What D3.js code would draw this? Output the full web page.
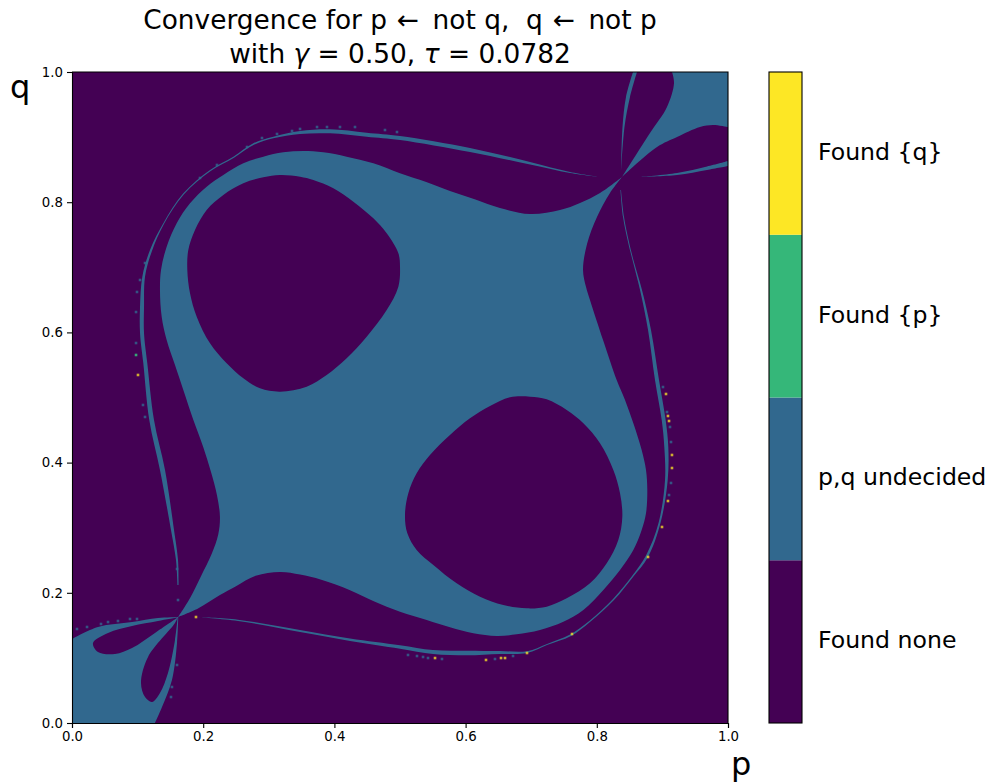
<!DOCTYPE html>
<html><head><meta charset="utf-8">
<script src="https://cdnjs.cloudflare.com/ajax/libs/d3/7.8.5/d3.min.js"></script>
<style>html,body{margin:0;padding:0;background:#fff}svg{display:block}text{font-family:"DejaVu Sans";fill:#000;white-space:pre}</style>
</head><body><div id="c"></div>
<script>
// Categories, bottom to top on the colour bar
const categories = ["Found none","p,q undecided","Found {p}","Found {q}"];
const palette = ["#440154","#31688e","#35b779","#fde725"];
const xTicks = [0,0.2,0.4,0.6,0.8,1];
const yTicks = [0,0.2,0.4,0.6,0.8,1];

// Boundaries of the regions as [p,q]
const centreUpper = [[.162,.163],[.1800,.1920],[.1966,.2256],[.2130,.2600],[.2230,.2900],[.2255,.3170],[.2210,.3500],[.2120,.3850],[.2000,.4240],[.1850,.4654],[.1697,.5115],[.1570,.5499],[.1443,.5883],[.1367,.6242],[.1341,.6651],[.1357,.6959],[.1443,.7317],[.1596,.7676],[.1799,.7983],[.2053,.8238],[.2307,.8418],[.2612,.8597],[.2917,.8700],[.3221,.8766],[.3526,.8787],[.3831,.8766],[.4187,.8700],[.4594,.8597],[.5,.8444],[.54,.8310],[.5762,.8172],[.615,.8040],[.6524,.7911],[.6982,.7819],[.7439,.7880],[.7744,.7988],[.8049,.8141],[.8384,.8387]];
const centreLower = [[.8384,.8387],[.8201,.8141],[.8003,.7773],[.7851,.7358],[.7790,.6959],[.7835,.6700],[.7896,.6498],[.8095,.5883],[.8303,.5269],[.8430,.4962],[.8557,.4603],[.8684,.4194],[.8750,.3886],[.8770,.3579],[.8750,.3221],[.8684,.2965],[.8557,.2657],[.8354,.2350],[.8100,.2043],[.7795,.1736],[.7490,.1556],[.7134,.1429],[.6779,.1362],[.6474,.1336],[.6118,.1378],[.5762,.1470],[.5407,.1582],[.5,.1710],[.4600,.1870],[.4238,.2040],[.3800,.2200],[.3476,.2280],[.3171,.2320],[.2800,.2260],[.2500,.2100],[.2256,.1966],[.1921,.1760],[.162,.163]];
const holeUpperLeft = [[.3171,.8418],[.3476,.8392],[.3679,.8341],[.3984,.8213],[.4289,.8008],[.4594,.7752],[.4797,.7522],[.4975,.7215],[.5,.7010],[.4975,.6703],[.4797,.6344],[.4492,.5935],[.4187,.5602],[.3882,.5346],[.3577,.5166],[.3171,.5090],[.2866,.5141],[.2612,.5294],[.2358,.5525],[.2104,.5832],[.1901,.6242],[.1799,.6600],[.1758,.6959],[.1773,.7266],[.1875,.7573],[.2053,.7880],[.2307,.8111],[.2612,.8290],[.2917,.8382]];
const holeLowerRight = [[.6982,.5013],[.7236,.4972],[.7541,.4808],[.7795,.4603],[.8049,.4296],[.8252,.3886],[.8354,.3528],[.8389,.3170],[.8328,.2811],[.8151,.2453],[.7896,.2145],[.7541,.1915],[.7236,.1787],[.6931,.1761],[.6575,.1813],[.6220,.1940],[.5864,.2145],[.5508,.2427],[.5254,.2657],[.5112,.2913],[.5076,.3195],[.5127,.3528],[.5254,.3835],[.5457,.4117],[.5762,.4424],[.6067,.4680],[.6372,.4869],[.6677,.5003]];
const cornerLowTop = [[0,.1290],[.0396,.1475],[.0915,.1551],[.1311,.1613],[.162,.163]];
const cornerLowRight = [[.162,.163],[.1601,.1229],[.1524,.0661],[.1372,.0246],[.1265,0]];
const cornerLowEdge = [[.1265,0],[0,0],[0,.1290]];
const petalA = [[.161,.162],[.1311,.1567],[.0915,.1490],[.0549,.1383],[.0320,.1229],[.0396,.1091],[.0655,.1060],[.0915,.1152],[.1265,.1383],[.161,.162]];
const petalB = [[.161,.162],[.1570,.1536],[.1159,.1014],[.1052,.0614],[.1113,.0399],[.1220,.0323],[.1341,.0461],[.1463,.0768],[.1570,.1275],[.161,.162]];
const cornerHighA = [[.8384,.8387],[.8811,.9063],[.9070,.9462],[.9177,.9831],[.9146,1]];
const cornerHighEdge = [[.9146,1],[1,1],[1,.9155]];
const cornerHighB = [[1,.9155],[.9771,.9186],[.9573,.9155],[.9223,.9002],[.8918,.8848],[.8384,.8387]];
const streakUpA = [[.8552,1],[.8445,.9616],[.8392,.9155],[.8369,.8464]];
const streakUpB = [[.8369,.8464],[.8422,.9155],[.8506,.9616],[.8613,1]];
const streakRightA = [[1,.8633],[.9680,.8549],[.9223,.8449],[.8659,.8387]];
const streakRightB = [[.8659,.8387],[.9223,.8418],[.9680,.8495],[1,.8556]];
const bandLowerOuter = [[.8369,.8188],[.8415,.7773],[.8491,.7389],[.8567,.7081],[.8689,.6651],[.8826,.6037],[.8948,.5269],[.9050,.4650],[.9090,.4240],[.9081,.3733],[.8971,.3072],[.8781,.2550],[.8552,.2243],[.8262,.1889],[.7896,.1551],[.7607,.1336],[.7241,.1198],[.6936,.1075],[.6524,.1060],[.6021,.1040],[.5503,.1060],[.5,.1141],[.4238,.1260],[.3476,.1398],[.2530,.1567],[.1906,.1628]];
const bandLowerInner = [[.1906,.1628],[.2530,.1587],[.3476,.1429],[.4238,.1298],[.5,.1194],[.5503,.1120],[.6021,.1111],[.6524,.1105],[.6936,.1103],[.7241,.1215],[.7592,.1359],[.7885,.1567],[.8247,.1905],[.8537,.2258],[.8750,.2573],[.8941,.3072],[.9040,.3733],[.9029,.4240],[.8990,.4650],[.8887,.5269],[.8781,.6037],[.8659,.6651],[.8552,.7081],[.8476,.7389],[.8400,.7773],[.8361,.8188]];
const bandUpperOuter = [[.1608,.2120],[.1585,.2504],[.1509,.2965],[.1341,.3886],[.1178,.4654],[.1087,.5525],[.1037,.5986],[.1037,.6395],[.1072,.6856],[.1189,.7266],[.1392,.7676],[.1697,.8136],[.2104,.8495],[.2459,.8700],[.2764,.8905],[.3069,.9007],[.3476,.9094],[.3933,.9120],[.4492,.9068],[.5,.9017],[.6067,.8833],[.6982,.8618],[.7592,.8464],[.8049,.8387]];
const bandUpperInner = [[.8049,.8387],[.7592,.8449],[.6982,.8579],[.6067,.8771],[.5,.8956],[.4492,.9007],[.3933,.9058],[.3476,.9048],[.3069,.8982],[.2774,.8883],[.2470,.8684],[.2114,.8479],[.1707,.8121],[.1402,.7665],[.1215,.7240],[.1113,.6856],[.1098,.6395],[.1098,.5986],[.1148,.5525],[.1250,.4654],[.1418,.3886],[.1555,.2965],[.1616,.2504],[.1624,.2120]];

// Isolated stray cells: [p,q]
const specksFoundQ = [[.9146,.4117],[.9146,.3917],[.9085,.3410],[.8994,.3011],[.8781,.2550],[.7622,.1367],[.6936,.1075],[.6311,.0968],[.6601,.0998],[.6540,.0998],[.5534,.0998],[.9085,.4716],[.9101,.4639],[.9055,.5054],[.1006,.5346],[.1890,.1628]];
const specksFoundP = [[.0976,.5653]];
const specksUndecided = [[.9116,.4547],[.9131,.4316],[.9131,.3687],[.9101,.3502],[.9009,.5161],[.9070,.4777],[.5122,.1045],[.5259,.1029],[.5351,.1014],[.5427,.0998],[.5640,.0983],[.6448,.0983],[.6723,.1029],[.0976,.5837],[.0976,.6313],[.0991,.6621],[.1037,.6805],[.1113,.7066],[.1082,.4885],[.1113,.4701],[.3735,.9155],[.3887,.9155],[.4085,.9155],[.4314,.9155],[.4771,.9109],[.4954,.9078],[.3476,.9125],[.3354,.9094],[.3125,.9048],[.2896,.8986],[.2668,.8848],[.2210,.8572],[.1951,.8372],[.0076,.1444],[.0229,.1475],[.0442,.1521],[.0549,.1551],[.0701,.1567],[.0884,.1598],[.0991,.1598],[.1601,.2366],[.1524,.0553],[.1509,.0399],[.1601,.0891],[.1616,.1889]];

const W = 992, H = 783;
const svg = d3.select("#c").append("svg").attr("width",W).attr("height",H);
const x = d3.scaleLinear().domain([0,1]).range([72,728]);
const y = d3.scaleLinear().domain([0,1]).range([723,72]);
const fill = d3.scaleOrdinal().domain(categories).range(palette);

const smooth = d3.line().x(d=>x(d[0])).y(d=>y(d[1])).curve(d3.curveCatmullRom.alpha(0.5));
const straight = d3.line().x(d=>x(d[0])).y(d=>y(d[1]));
const closed = d3.line().x(d=>x(d[0])).y(d=>y(d[1])).curve(d3.curveCatmullRomClosed.alpha(0.5));
const joined = chains => chains.map((c,i)=>{
  const s = (c.length===3 && c[1].every(v=>v===0||v===1)) ? straight(c) : smooth(c);
  return i? "L"+s.slice(1) : s;
}).join("")+"Z";

const none = fill("Found none"), und = fill("p,q undecided");
const plot = svg.append("g");
plot.append("rect").attr("x",x(0)).attr("y",y(1)).attr("width",x(1)-x(0)).attr("height",y(0)-y(1)).attr("fill",none);

const blueShapes = [
  [centreUpper,centreLower],
  [cornerLowTop,cornerLowRight,cornerLowEdge],
  [cornerHighA,cornerHighEdge,cornerHighB],
  [streakUpA,streakUpB],[streakRightA,streakRightB],
  [bandLowerOuter,bandLowerInner],[bandUpperOuter,bandUpperInner]
];
plot.selectAll("path.blue").data(blueShapes).join("path").attr("class","blue").attr("d",joined).attr("fill",und);
plot.selectAll("path.hole").data([holeUpperLeft,holeLowerRight]).join("path").attr("class","hole").attr("d",d=>closed(d)+"Z").attr("fill",none);
plot.selectAll("path.petal").data([petalA,petalB]).join("path").attr("class","petal").attr("d",d=>smooth(d)+"Z").attr("fill",none);

const cellW = x(0.004)-x(0), cellH = y(0)-y(0.004);
const speckSets = [[specksUndecided,und,0.8],[specksFoundP,fill("Found {p}"),0.9],[specksFoundQ,fill("Found {q}"),0.75]];
speckSets.forEach(([pts,c,o])=>{
  plot.append("g").selectAll("rect").data(pts).join("rect")
    .attr("x",d=>x(d[0])-cellW/2).attr("y",d=>y(d[1])-cellH/2)
    .attr("width",cellW).attr("height",cellH).attr("fill",c).attr("opacity",o);
});

// Axes
const axX = d3.axisBottom(x).tickValues(xTicks).tickFormat(d3.format(".1f")).tickSize(5).tickPadding(4);
const axY = d3.axisLeft(y).tickValues(yTicks).tickFormat(d3.format(".1f")).tickSize(5).tickPadding(4);
const gx = svg.append("g").attr("transform",`translate(0,${y(0)})`).call(axX);
const gy = svg.append("g").attr("transform",`translate(${x(0)},0)`).call(axY);
[gx,gy].forEach(g=>{
  g.selectAll("text").style("font-size","13.3px").style("font-family","'DejaVu Sans'").attr("fill","#000");
  g.selectAll("line").attr("stroke","#000").attr("stroke-width",1.1);
  g.select(".domain").attr("stroke","#000").attr("stroke-width",1.1);
});
svg.append("path").attr("d",`M${x(0)},${y(1)}H${x(1)}V${y(0)}`).attr("fill","none").attr("stroke","#000").attr("stroke-width",1.1);

// Titles and axis names
const t1 = svg.append("text").attr("x",400).attr("y",29).attr("text-anchor","middle").style("font-size","26.4px");
t1.append("tspan").text("Convergence for p");
t1.append("tspan").attr("dx",10).text("\u2190");
t1.append("tspan").attr("dx",5).text(" not q,  q");
t1.append("tspan").attr("dx",10).text("\u2190");
t1.append("tspan").attr("dx",5).text(" not p");
const t2 = svg.append("text").attr("x",400).attr("y",63).attr("text-anchor","middle").style("font-size","26.4px");
t2.append("tspan").text("with ");
t2.append("tspan").style("font-style","italic").text("\u03b3");
t2.append("tspan").text(" = 0.50, ");
t2.append("tspan").style("font-style","italic").text("\u03c4");
t2.append("tspan").text(" = 0.0782");
svg.append("text").attr("x",10).attr("y",98).style("font-size","32px").text("q");
svg.append("text").attr("x",731).attr("y",775).style("font-size","32px").text("p");

// Colour bar
const barY = d3.scaleBand().domain(categories).range([723,72]);
const bar = svg.append("g");
bar.selectAll("rect").data(categories).join("rect")
  .attr("x",769).attr("width",33).attr("y",d=>barY(d)).attr("height",barY.bandwidth()).attr("fill",d=>fill(d));
bar.append("rect").attr("x",769).attr("y",72).attr("width",33).attr("height",651).attr("fill","none").attr("stroke","#000").attr("stroke-width",1.1);
bar.selectAll("text").data(categories).join("text")
  .attr("x",818).attr("y",d=>barY(d)+barY.bandwidth()/2+6.5).style("font-size","23.6px").text(d=>d);
</script></body></html>
